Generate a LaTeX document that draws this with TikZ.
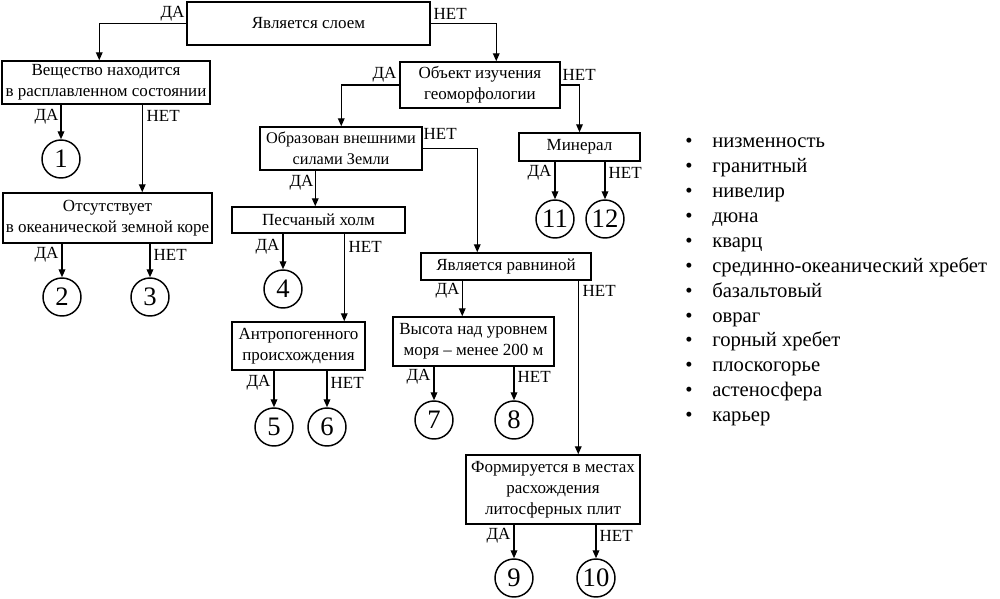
\documentclass[tikz,border=0pt]{standalone}
\usepackage{fontspec}
\setmainfont{Liberation Serif}
\usetikzlibrary{arrows.meta,calc}
\begin{document}
\begin{tikzpicture}[x=0.75pt,y=-0.75pt,
  box/.style={draw, line width=1.1pt, inner sep=0pt, align=center, font=\fontsize{12.75}{15.75}\selectfont},
  num/.style={draw, circle, line width=1.1pt, minimum size=28.5pt, inner sep=0pt, font=\fontsize{20}{20}\selectfont},
  lab/.style={inner sep=1pt, font=\rmfamily\fontsize{12.75}{12.75}\selectfont},
  arr/.style={-{Triangle[length=6pt,width=5pt]}, line width=1pt},
  item/.style={anchor=base west, inner sep=0pt, font=\fontsize{15.5}{18.6}\selectfont},
  bul/.style={anchor=base, inner sep=0pt, font=\fontsize{15.5}{18.6}\selectfont}]
\useasboundingbox (0,0) rectangle (1000,599);
\fill[white] (0,0) rectangle (1000,599);

% boxes
\node[box, minimum width=182.25pt, minimum height=32.25pt] (top) at (308.5,23.5) {Является слоем};
\node[box, minimum width=156pt, minimum height=32.25pt] (b1) at (106,82.5) {Вещество находится\\в расплавленном состоянии};
\node[box, minimum width=156.75pt, minimum height=37.5pt] (b2) at (107.5,218) {Отсутствует\\в океанической земной коре};
\node[box, minimum width=120pt, minimum height=34.5pt] (b4) at (480,85) {Объект изучения\\геоморфологии};
\node[box, minimum width=121.5pt, minimum height=32.25pt, font=\fontsize{12.2}{15.75}\selectfont] (b5) at (341,148.5) {Образован внешними\\силами Земли};
\node[box, minimum width=129.75pt, minimum height=19.5pt] (b6) at (318.5,220) {Песчаный холм};
\node[box, minimum width=99.75pt, minimum height=36pt] (b7) at (298.5,346) {Антропогенного\\происхождения};
\node[box, minimum width=127.5pt, minimum height=20.25pt] (rv) at (506,266.5) {Является равниной};
\node[box, minimum width=120.75pt, minimum height=36.75pt] (b8) at (473.5,341.5) {Высота над уровнем\\моря -- менее 200 м};
\node[box, minimum width=130.5pt, minimum height=51.75pt] (b9) at (553,489.5) {Формируется в местах\\расхождения\\литосферных плит};
\node[box, minimum width=90.75pt, minimum height=21pt] (mn) at (579.5,147) {Минерал};

% circles
\node[num] (c1) at (61,159) {1};
\node[num] (c2) at (62,297) {2};
\node[num] (c3) at (150,297) {3};
\node[num] (c4) at (283,289) {4};
\node[num] (c5) at (274,427) {5};
\node[num] (c6) at (327,427) {6};
\node[num] (c7) at (434,420) {7};
\node[num] (c8) at (514,420) {8};
\node[num] (c9) at (514,578) {9};
\node[num] (c10) at (596,578) {10};
\node[num] (c11) at (555,219) {11};
\node[num] (c12) at (605,219) {12};

% connectors
\draw[arr] (top.west) -| ($(b1.north west)+(98,0)$);
\draw[arr] (top.east) -| ($(b4.north west)+(97,0)$);
\draw[arr] (b1.south -| c1.north) -- (c1.north);
\draw[arr] ($(b1.south west)+(141,0)$) coordinate (p1) -- (p1 |- b2.north);
\draw[arr] (b2.south -| c2.north) -- (c2.north);
\draw[arr] (b2.south -| c3.north) -- (c3.north);
\draw[arr] (b4.west) -| ($(b5.north west)+(82,0)$);
\draw[arr] (b4.east) -| (mn.north);
\draw[arr] ($(b5.south west)+(56,0)$) coordinate (p2) -- (p2 |- b6.north);
\draw[arr] (b5.east) -| ($(rv.north west)+(57,0)$);
\draw[arr] (b6.south -| c4.north) -- (c4.north);
\draw[arr] ($(b6.south west)+(113,0)$) coordinate (p3) -- (p3 |- b7.north);
\draw[arr] (b7.south -| c5.north) -- (c5.north);
\draw[arr] (b7.south -| c6.north) -- (c6.north);
\draw[arr] ($(rv.south west)+(42,0)$) coordinate (p4) -- (p4 |- b8.north);
\draw[arr] ($(rv.south west)+(158,0)$) coordinate (p5) -- (p5 |- b9.north);
\draw[arr] (b8.south -| c7.north) -- (c7.north);
\draw[arr] (b8.south -| c8.north) -- (c8.north);
\draw[arr] (b9.south -| c9.north) -- (c9.north);
\draw[arr] (b9.south -| c10.north) -- (c10.north);
\draw[arr] (mn.south -| c11.north) -- (c11.north);
\draw[arr] (mn.south -| c12.north) -- (c12.north);

% labels
\node[lab, anchor=east] (l1) at (186,14) {ДА};
\node[lab, anchor=west] (l2) at (432,14) {НЕТ};
\node[lab, anchor=east] (l3) at (60,117) {ДА};
\node[lab, anchor=west] (l4) at (145,116) {НЕТ};
\node[lab, anchor=east] (l5) at (60,255) {ДА};
\node[lab, anchor=west] (l6) at (152,255) {НЕТ};
\node[lab, anchor=east] (l7) at (398,75) {ДА};
\node[lab, anchor=west] (l8) at (561,75) {НЕТ};
\node[lab, anchor=west] (l9) at (422,134) {НЕТ};
\node[lab, anchor=east] (l10) at (315,183) {ДА};
\node[lab, anchor=east] (l11) at (281,247) {ДА};
\node[lab, anchor=west] (l12) at (347,247) {НЕТ};
\node[lab, anchor=east] (l13) at (272,383) {ДА};
\node[lab, anchor=west] (l14) at (329,383) {НЕТ};
\node[lab, anchor=east] (l15) at (461,291) {ДА};
\node[lab, anchor=west] (l16) at (581,291) {НЕТ};
\node[lab, anchor=east] (l17) at (432,377) {ДА};
\node[lab, anchor=west] (l18) at (516,377) {НЕТ};
\node[lab, anchor=east] (l19) at (512,536) {ДА};
\node[lab, anchor=west] (l20) at (598,536) {НЕТ};
\node[lab, anchor=east] (l21) at (553,173) {ДА};
\node[lab, anchor=west] (l22) at (607,173) {НЕТ};

% list
\foreach \t [count=\i from 0] in {низменность, гранитный, нивелир, дюна, кварц, срединно-океанический хребет, базальтовый, овраг, горный хребет, плоскогорье, астеносфера, карьер}{
  \node[bul] (bu\i) at (689,147.7+24.9*\i) {•};
  \node[item] (it\i) at (712,147.7+24.9*\i) {\t};
}
\end{tikzpicture}
\end{document}
